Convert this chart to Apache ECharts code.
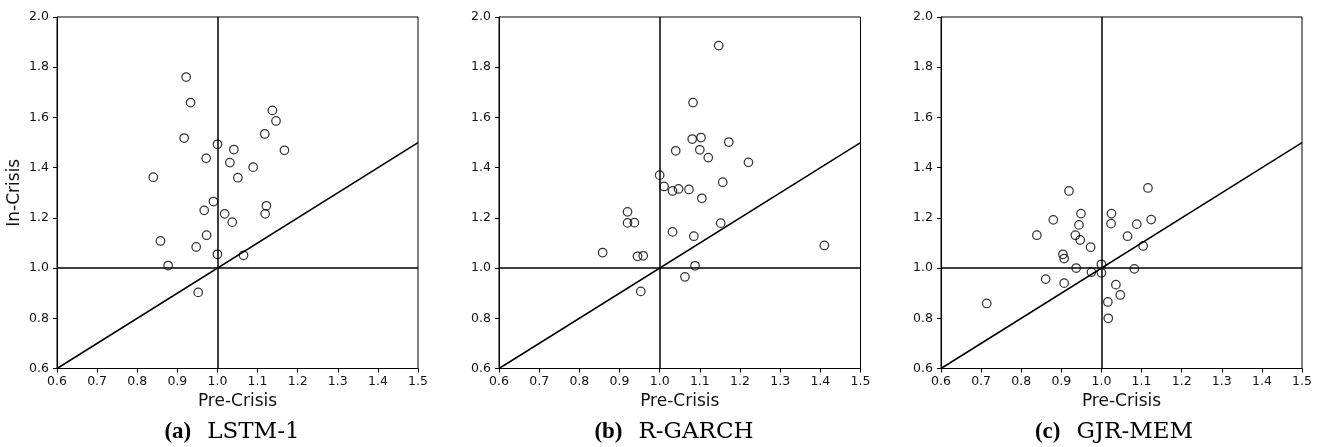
<!DOCTYPE html>
<html>
<head>
<meta charset="utf-8">
<script src="https://cdn.jsdelivr.net/npm/echarts@6/dist/echarts.min.js"></script>
<style>
html,body{margin:0;padding:0;background:#fff;}
#c{width:1321px;height:447px;}
</style>
</head>
<body>
<div id="c"></div>
<script>
// ---- data ----
const panelCaptions = ['(a)', '(b)', '(c)'];
const panelNames = ['LSTM-1', 'R-GARCH', 'GJR-MEM'];
const xName = 'Pre-Crisis';
const yName = 'In-Crisis';
const xRange = [0.6, 1.5];
const yRange = [0.6, 2.0];
const xStep = 0.1;
const yStep = 0.2;
const parityLevel = 1.0;

const lstmPre = [0.922, 0.933, 1.137, 1.146, 1.118, 0.917, 1.000, 1.041, 1.167, 0.972, 1.031, 1.089, 0.840, 1.051, 0.990, 0.967, 1.122, 1.018, 1.119, 1.037, 0.858, 0.973, 0.947, 1.000, 1.065, 0.877, 0.952];
const lstmIn  = [1.761, 1.659, 1.628, 1.586, 1.534, 1.518, 1.493, 1.472, 1.469, 1.437, 1.420, 1.402, 1.362, 1.360, 1.265, 1.230, 1.248, 1.216, 1.216, 1.183, 1.108, 1.131, 1.084, 1.055, 1.051, 1.010, 0.903];

const rgarchPre = [1.147, 1.083, 1.081, 1.103, 1.172, 1.040, 1.100, 1.121, 1.221, 1.000, 1.011, 1.032, 1.047, 1.073, 1.157, 1.105, 0.920, 0.920, 0.937, 1.152, 1.032, 1.085, 0.858, 0.945, 0.959, 1.410, 1.088, 1.063, 0.953];
const rgarchIn  = [1.886, 1.659, 1.514, 1.520, 1.502, 1.467, 1.471, 1.440, 1.421, 1.370, 1.325, 1.307, 1.315, 1.313, 1.342, 1.278, 1.224, 1.180, 1.181, 1.179, 1.144, 1.127, 1.062, 1.047, 1.049, 1.090, 1.009, 0.965, 0.907];

const gjrPre = [0.919, 1.116, 0.949, 1.025, 0.880, 1.124, 0.944, 1.024, 1.088, 0.839, 0.935, 0.947, 1.065, 0.973, 1.104, 0.904, 0.907, 0.937, 1.000, 1.000, 0.975, 1.082, 0.861, 0.907, 1.036, 1.047, 1.016, 1.017, 0.714];
const gjrIn  = [1.307, 1.319, 1.217, 1.217, 1.192, 1.193, 1.172, 1.177, 1.175, 1.131, 1.131, 1.112, 1.127, 1.083, 1.088, 1.055, 1.038, 1.000, 1.015, 0.981, 0.984, 0.997, 0.956, 0.940, 0.934, 0.893, 0.865, 0.800, 0.859];

const preSets = [lstmPre, rgarchPre, gjrPre];
const inSets = [lstmIn, rgarchIn, gjrIn];

// ---- layout ----
const grids = [
  {left: 57, top: 17, width: 361, height: 351.5},
  {left: 499, top: 17, width: 361.5, height: 351.5},
  {left: 941, top: 17, width: 361, height: 351.5}
];
const captionX = [232, 674, 1114];
const captionY = 432;

const tickRich = {t: {fontFamily: 'DejaVu Sans', fontSize: 12.5, color: '#111'}};
const fmt = v => '{t|' + v.toFixed(1) + '}';

const option = {
  animation: false,
  backgroundColor: '#fff',
  grid: grids.map(g => Object.assign({show: true, borderColor: '#000', borderWidth: 1, backgroundColor: 'transparent'}, g)),
  xAxis: grids.map((g, i) => ({
    type: 'value', gridIndex: i, min: xRange[0], max: xRange[1], interval: xStep,
    name: xName, nameLocation: 'middle', nameGap: 24,
    nameTextStyle: {fontFamily: 'DejaVu Sans', fontSize: 17, color: '#111'},
    axisLine: {show: true, onZero: false, lineStyle: {color: '#000', width: 1}},
    axisTick: {show: true, length: 4, inside: false, lineStyle: {color: '#000', width: 1}},
    axisLabel: {margin: 7, formatter: fmt, rich: tickRich, fontFamily: 'DejaVu Sans', fontSize: 12.5, color: '#111'},
    splitLine: {show: false}
  })),
  yAxis: grids.map((g, i) => ({
    type: 'value', gridIndex: i, min: yRange[0], max: yRange[1], interval: yStep,
    name: i === 0 ? yName : '', nameLocation: 'middle', nameGap: 34,
    nameTextStyle: {fontFamily: 'DejaVu Sans', fontSize: 17, color: '#111'},
    axisLine: {show: true, onZero: false, lineStyle: {color: '#000', width: 1}},
    axisTick: {show: true, length: 4, inside: false, lineStyle: {color: '#000', width: 1}},
    axisLabel: {margin: 8, formatter: fmt, rich: tickRich, fontFamily: 'DejaVu Sans', fontSize: 12.5, color: '#111'},
    splitLine: {show: false}
  })),
  series: grids.map((g, i) => ({
    type: 'scatter',
    xAxisIndex: i, yAxisIndex: i,
    data: preSets[i].map((x, k) => [x, inSets[i][k]]),
    symbol: 'circle',
    symbolSize: 8.5,
    itemStyle: {color: 'transparent', borderColor: '#000', borderWidth: 1.25},
    markLine: {
      silent: true,
      symbol: 'none',
      label: {show: false},
      lineStyle: {color: '#000', width: 1.5, type: 'solid'},
      data: [
        {xAxis: parityLevel},
        {yAxis: parityLevel},
        [{coord: [xRange[0], xRange[0]]}, {coord: [xRange[1], xRange[1]]}]
      ]
    }
  })),
  graphic: grids.map((g, i) => ({
    type: 'text',
    x: captionX[i],
    y: captionY,
    style: {
      text: '{b|' + panelCaptions[i] + '}{n|' + panelNames[i] + '}',
      textAlign: 'center',
      textVerticalAlign: 'middle',
      rich: {
        b: {fontFamily: 'Liberation Serif', fontWeight: 'bold', fontSize: 23, fill: '#000', padding: [0, 16, 0, 0]},
        n: {fontFamily: 'DejaVu Serif', fontSize: 23, fill: '#000'}
      }
    }
  }))
};

const chart = echarts.init(document.getElementById('c'), null, {renderer: 'canvas'});
chart.setOption(option);
</script>
</body>
</html>
